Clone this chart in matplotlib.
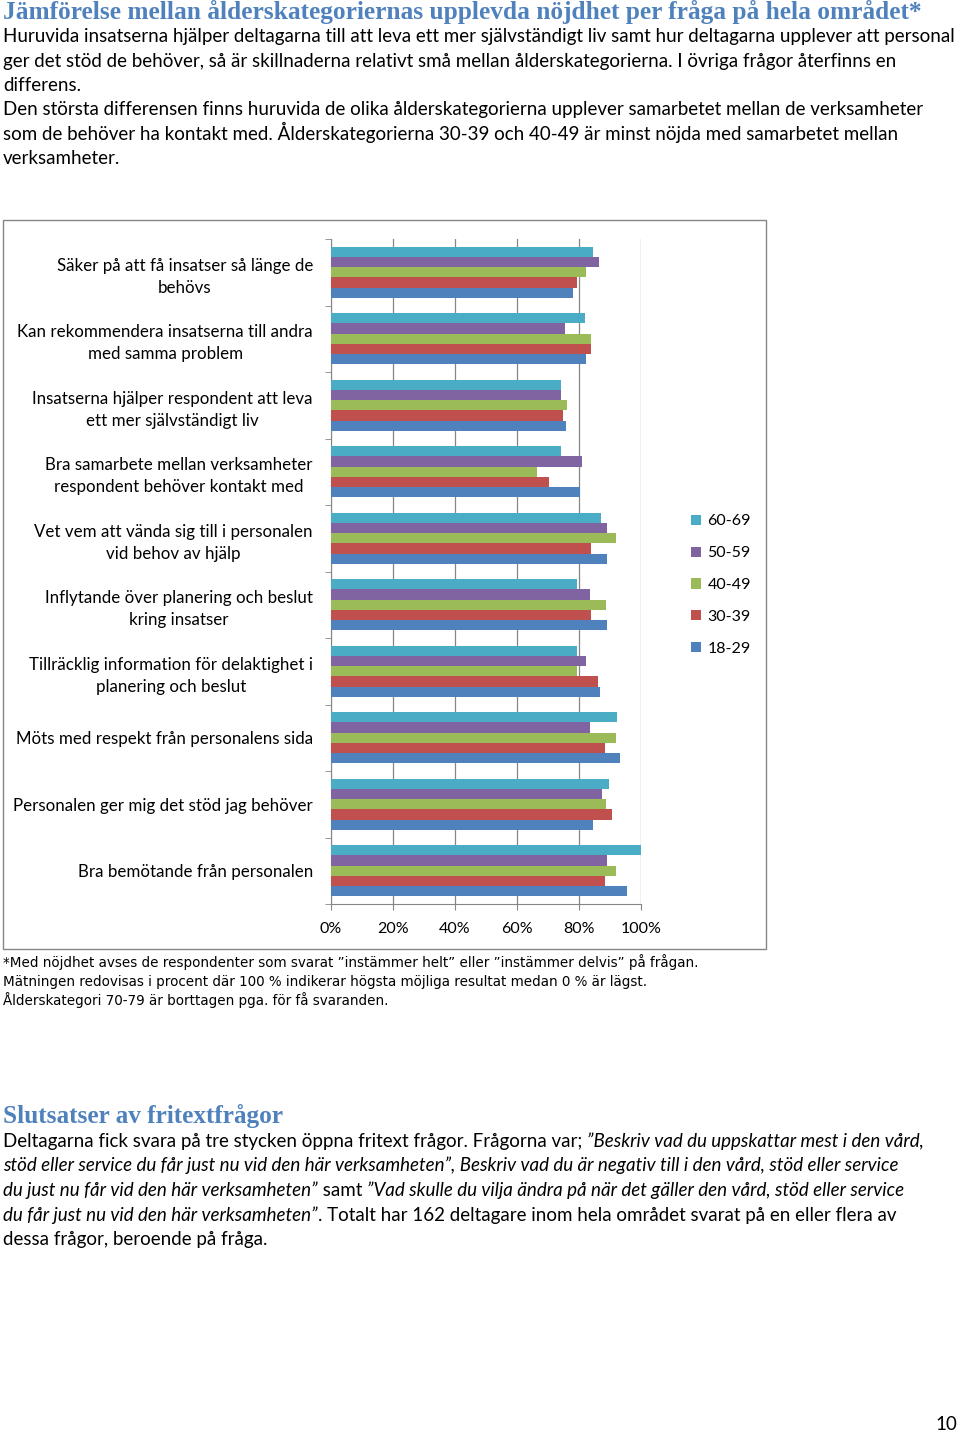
import matplotlib

matplotlib.use("Agg")
import matplotlib.pyplot as plt
from matplotlib.patches import Rectangle

W, H = 960, 1433

CATEGORIES = [
    "Säker på att få insatser så länge de\nbehövs",
    "Kan rekommendera insatserna till andra\nmed samma problem",
    "Insatserna hjälper respondent att leva\nett mer självständigt liv",
    "Bra samarbete mellan verksamheter\nrespondent behöver kontakt med",
    "Vet vem att vända sig till i personalen\nvid behov av hjälp",
    "Inflytande över planering och beslut\nkring insatser",
    "Tillräcklig information för delaktighet i\nplanering och beslut",
    "Möts med respekt från personalens sida",
    "Personalen ger mig det stöd jag behöver",
    "Bra bemötande från personalen",
]
SERIES = ["60-69", "50-59", "40-49", "30-39", "18-29"]
COLORS = ["#4BACC6", "#8064A2", "#9BBB59", "#C0504D", "#4F81BD"]

v_60_69 = [84.5, 81.8, 74.2, 74.2, 87.1, 79.4, 79.4, 92.2, 89.6, 100.0]
v_50_59 = [86.3, 75.5, 74.2, 81.0, 89.0, 83.7, 82.4, 83.7, 87.5, 89.0]
v_40_49 = [82.4, 84.0, 76.0, 66.5, 91.9, 88.8, 79.4, 91.9, 88.7, 91.9]
v_30_39 = [79.4, 84.0, 74.8, 70.3, 84.0, 84.0, 86.2, 88.5, 90.8, 88.5]
v_18_29 = [78.1, 82.4, 75.9, 80.3, 89.0, 89.0, 86.9, 93.3, 84.6, 95.5]
VALUES = [v_60_69, v_50_59, v_40_49, v_30_39, v_18_29]

TITLE = "Jämförelse mellan ålderskategoriernas upplevda nöjdhet per fråga på hela området*"
INTRO = [
    "Huruvida insatserna hjälper deltagarna till att leva ett mer självständigt liv samt hur deltagarna upplever att personal",
    "ger det stöd de behöver, så är skillnaderna relativt små mellan ålderskategorierna. I övriga frågor återfinns en",
    "differens.",
    "Den största differensen finns huruvida de olika ålderskategorierna upplever samarbetet mellan de verksamheter",
    "som de behöver ha kontakt med. Ålderskategorierna 30-39 och 40-49 är minst nöjda med samarbetet mellan",
    "verksamheter.",
]
NOTES = [
    "*Med nöjdhet avses de respondenter som svarat ”instämmer helt” eller ”instämmer delvis” på frågan.",
    "Mätningen redovisas i procent där 100 % indikerar högsta möjliga resultat medan 0 % är lägst.",
    "Ålderskategori 70-79 är borttagen pga. för få svaranden.",
]
HEADING2 = "Slutsatser av fritextfrågor"
PARA2 = [
    [("Deltagarna fick svara på tre stycken öppna fritext frågor. Frågorna var; ", "normal"),
     ("”Beskriv vad du uppskattar mest i den vård,", "italic")],
    [("stöd eller service du får just nu vid den här verksamheten”, Beskriv vad du är negativ till i den vård, stöd eller service", "italic")],
    [("du just nu får vid den här verksamheten”", "italic"), (" samt ", "normal"),
     ("”Vad skulle du vilja ändra på när det gäller den vård, stöd eller service", "italic")],
    [("du får just nu vid den här verksamheten”", "italic"),
     (". Totalt har 162 deltagare inom hela området svarat på en eller flera av", "normal")],
    [("dessa frågor, beroende på fråga.", "normal")],
]

BODY = "Lato"
fig = plt.figure(figsize=(W / 100, H / 100), dpi=100)
R = fig.canvas.get_renderer()


def put(x, y, s, width=None, **kw):
    # x, y in pixels from top-left, y is the baseline
    t = fig.text(x / W, 1 - y / H, s, va="baseline", **kw)
    if width:
        for _ in range(4):
            w = t.get_window_extent(R).width
            t.set_fontsize(t.get_fontsize() * width / w)
    return t


put(3, 19, TITLE, width=919, family="Liberation Serif", weight="bold", color="#4F81BD", fontsize=17)
t0 = put(3, 42, INTRO[0], width=952, family=BODY, fontsize=12)
fs = t0.get_fontsize()
for i, line in enumerate(INTRO[1:], 1):
    put(3, 42 + 24.5 * i, line, family=BODY, fontsize=fs)

# chart frame
fig.patches.append(Rectangle((3 / W, 1 - 949 / H), 763 / W, 729 / H, transform=fig.transFigure,
                             fill=False, edgecolor="#868686", lw=1))

ax = fig.add_axes([331 / W, 1 - 904 / H, 310 / W, 665 / H])
n = len(CATEGORIES)
bh = 0.153
for k, (name, vals, col) in enumerate(zip(SERIES, VALUES, COLORS)):
    off = (k - 2) * bh
    ax.barh([i + off for i in range(n)], [v / 100 for v in vals], height=bh, color=col, label=name, zorder=3)
ax.set_ylim(n - 0.5, -0.5)
ax.set_xlim(0, 1)
ax.set_xticks([0, 0.2, 0.4, 0.6, 0.8, 1.0])
ax.set_xticklabels(["0%", "20%", "40%", "60%", "80%", "100%"], family=BODY, fontsize=11.5)
ax.set_yticks(range(n))
ax.set_yticklabels(CATEGORIES, family=BODY, fontsize=12.2)
for t in ax.get_yticklabels():
    t.set_multialignment("center")
    t.set_linespacing(1.45)
ax.set_yticks([i - 0.5 for i in range(n + 1)], minor=True)
ax.tick_params(axis="y", which="major", length=0, pad=13)
ax.tick_params(axis="y", which="minor", length=4, color="#868686", direction="out")
ax.tick_params(axis="x", length=4, color="#868686", direction="out", pad=9)
ax.grid(axis="x", color="#868686", lw=0.9, zorder=0)
for s in ["top", "right"]:
    ax.spines[s].set_visible(False)
for s in ["left", "bottom"]:
    ax.spines[s].set_color("#868686")
ax.set_facecolor("none")

handles, labels = ax.get_legend_handles_labels()
fig.legend(handles, labels, loc="upper left", bbox_to_anchor=(677 / W, 1 - 500 / H), frameon=False,
           handlelength=0.6, handleheight=0.6, handletextpad=0.4, labelspacing=1.12,
           prop={"family": BODY, "size": 11.5})

t1 = put(3, 967, NOTES[0], width=694, family="DejaVu Sans", fontsize=9.5)
for i, line in enumerate(NOTES[1:], 1):
    put(3, 967 + 19 * i, line, family="DejaVu Sans", fontsize=t1.get_fontsize())

put(3, 1123, HEADING2, width=280, family="Liberation Serif", weight="bold", color="#4F81BD", fontsize=17)
for i, segs in enumerate(PARA2):
    x = 3
    for text, style in segs:
        t = put(x, 1147 + 24.5 * i, text, family=BODY, style=style, fontsize=fs)
        x += t.get_window_extent(R).width

put(957, 1430, "10", family=BODY, fontsize=fs, ha="right")

fig.savefig("out.png", dpi=100, facecolor="white")
